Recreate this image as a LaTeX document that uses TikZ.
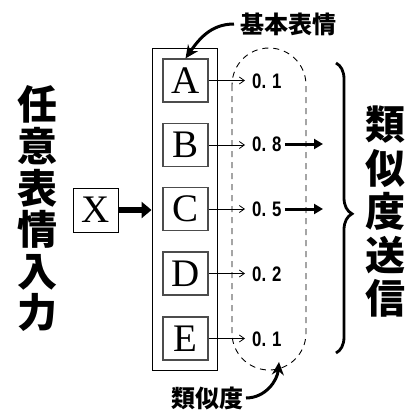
\documentclass[tikz,border=0pt]{standalone}
\usepackage{fontspec}
\setmainfont{Liberation Serif}
\newfontfamily\cjk{Noto Sans CJK JP}
\newfontfamily\numfont[FakeStretch=0.8]{Liberation Sans}
\usetikzlibrary{arrows.meta,decorations.pathreplacing}
\begin{document}
\begin{tikzpicture}[x=1pt,y=-1pt,
  letterbox/.style={draw=black!70, line width=1.2pt, minimum width=45pt, minimum height=43pt, inner sep=0pt, font=\fontsize{39}{39}\selectfont},
  numlabel/.style={font=\numfont\bfseries\fontsize{21}{21}\selectfont, inner sep=0pt, anchor=west},
  thin arrow/.style={-{Straight Barb[length=5pt,width=7pt]}, line width=0.8pt},
  thick arrow/.style={-{Triangle[length=9pt,width=10pt]}, line width=3pt},
  curve arrow/.style={-{Stealth[length=13pt,width=12pt]}, line width=3pt},
  cjklabel/.style={font=\cjk\bfseries\fontsize{24}{24}\selectfont, inner sep=0pt}]
\useasboundingbox (0,0) rectangle (408,413);
% outer frame
\node[draw, line width=0.9pt, minimum width=65pt, minimum height=322pt, inner sep=0pt] (frame) at (184.5,209) {};
% boxes
\node[letterbox] (A) at (185.5,80.5) {A};
\node[letterbox] (B) at (185.5,145) {B};
\node[letterbox] (C) at (185.5,209) {C};
\node[letterbox] (D) at (185.5,273.5) {D};
\node[letterbox] (E) at (185.5,338.5) {E};
% input X
\node[draw, line width=0.9pt, minimum width=45pt, minimum height=44pt, inner sep=0pt, font=\fontsize{39}{39}\selectfont] (X) at (95.5,210) {X};
\draw[-{Triangle[length=10pt,width=16pt]}, line width=6pt] (X.east) -- (frame.west |- X.east);
% dashed region
\draw[dashed, dash pattern=on 6pt off 5pt, line width=0.9pt, rounded corners=37pt] (232,48) rectangle (306,370);
\coordinate (dashbot) at (279,362);
% numbers
\node[numlabel] (nA) at (252,81) {0.\hspace{6pt}1};
\node[numlabel] (nB) at (252,144) {0.\hspace{6pt}8};
\node[numlabel] (nC) at (252,209) {0.\hspace{6pt}5};
\node[numlabel] (nD) at (252,274) {0.\hspace{6pt}2};
\node[numlabel] (nE) at (252,339) {0.\hspace{6pt}1};
\foreach \n in {A,B,C,D,E}{
  \draw[thin arrow] (\n.east) -- ([xshift=-7pt]n\n.west |- \n.east);
}
% thick send arrows
\coordinate (sB) at (323,144);
\coordinate (sC) at (323,209);
\draw[thick arrow] ([xshift=3pt]nB.east) -- (sB);
\draw[thick arrow] ([xshift=3pt]nC.east) -- (sC);
% brace
\draw[decorate, decoration={brace, amplitude=16pt, aspect=0.52}, line width=2.8pt] (336,63) -- (336,353);
% vertical texts
\node[font=\cjk\bfseries\fontsize{40}{41.6}\selectfont, align=center, inner sep=0pt] (inlabel) at (37,209) {任\\意\\表\\情\\入\\力};
\node[font=\cjk\bfseries\fontsize{40}{43.5}\selectfont, align=center, inner sep=0pt] (outlabel) at (385,212) {類\\似\\度\\送\\信};
% top label
\node[cjklabel, anchor=west] (basic) at (240,24) {基本表情};
\draw[curve arrow] ([xshift=-6pt]basic.west) to[out=180, in=55] (A.north);
% bottom label
\node[cjklabel, anchor=east] (sim) at (244,398) {類似度};
\draw[curve arrow] ([xshift=2pt]sim.east) to[out=0, in=-95] (dashbot);
\end{tikzpicture}
\end{document}
